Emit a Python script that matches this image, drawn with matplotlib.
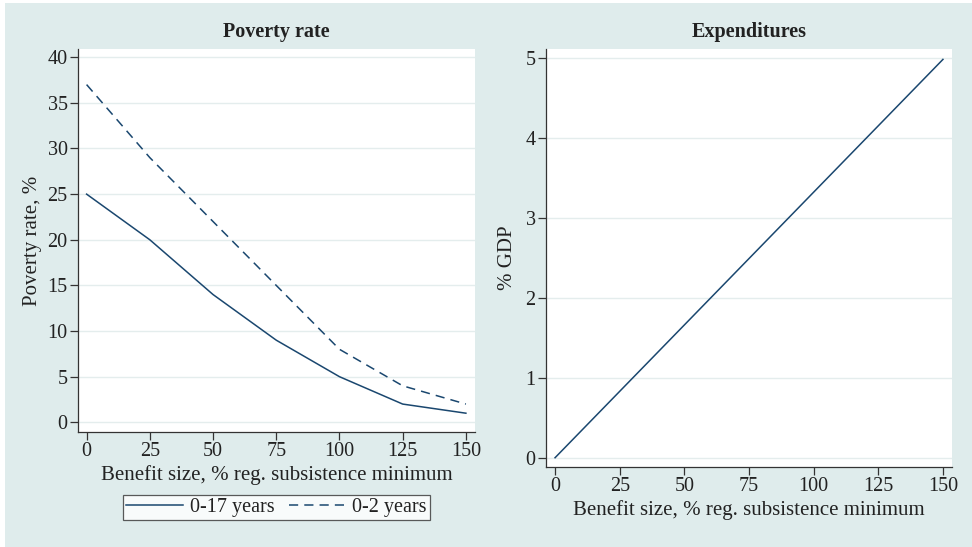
import matplotlib
matplotlib.use("Agg")
import matplotlib.pyplot as plt
from matplotlib.patches import Rectangle

benefit = [0, 25, 50, 75, 100, 125, 150]
pov_0_17 = [25, 20, 14, 9, 5, 2, 1]
pov_0_2 = [37, 29, 22, 15, 8, 4, 2]
exp_gdp = [0, 0.83, 1.66, 2.49, 3.32, 4.15, 4.98]
x_ticks = [0, 25, 50, 75, 100, 125, 150]
pov_ticks = [0, 5, 10, 15, 20, 25, 30, 35, 40]
gdp_ticks = [0, 1, 2, 3, 4, 5]

plt.rcParams['font.family'] = ['Liberation Serif', 'DejaVu Serif']
BG = '#dfecec'
LINE = '#1a476f'
GRID = '#e4eded'
SPINE = '#333333'
TXT = '#222222'

fig = plt.figure(figsize=(9.72, 5.47), dpi=100)
fig.patch.set_facecolor('white')
bg = Rectangle((5/972, 0), 1 - 5/972, 1 - 3/547, transform=fig.transFigure,
               facecolor=BG, edgecolor='none', zorder=-10)
fig.add_artist(bg)

def style(ax):
    ax.set_facecolor('white')
    ax.set_zorder(1)
    for s in ['top', 'right']:
        ax.spines[s].set_visible(False)
    for s in ['left', 'bottom']:
        ax.spines[s].set_color(SPINE)
        ax.spines[s].set_linewidth(0.9)
    ax.tick_params(axis='both', colors=SPINE, labelcolor=TXT, labelsize=14.5,
                   length=5.5, width=0.9, direction='out', pad=2)
    ax.grid(axis='y', color=GRID, linewidth=1.0)
    ax.set_axisbelow(True)

ax1 = fig.add_axes([78/972, 1 - 432/547, 397/972, 383/547])
ax1.plot(benefit, pov_0_17, color=LINE, lw=1.1, label='0-17 years')
ax1.plot(benefit, pov_0_2, color=LINE, lw=1.1, ls=(0, (6, 4)), label='0-2 years')
ax1.set_xlim(-3.4, 153.6)
ax1.set_ylim(-1.06, 40.9)
ax1.set_xticks(x_ticks)
ax1.set_yticks(pov_ticks)
style(ax1)
ax1.set_title('Poverty rate', fontsize=14.5, fontweight='bold', pad=9, color=TXT)
ax1.set_xlabel('Benefit size, % reg. subsistence minimum', fontsize=15, color=TXT, labelpad=3)
ax1.set_ylabel('Poverty rate, %', fontsize=15, color=TXT, labelpad=4)
leg = ax1.legend(loc='upper center', bbox_to_anchor=(0.5, -0.165), ncol=2, frameon=True,
                 fancybox=False, fontsize=14.5, handlelength=2.8, handletextpad=0.35,
                 columnspacing=0.7, borderpad=0.15, labelcolor=TXT, borderaxespad=0)
leg.get_frame().set_edgecolor('#333333')
leg.get_frame().set_linewidth(0.9)

ax2 = fig.add_axes([546/972, 1 - 467/547, 406/972, 418/547])
ax2.plot(benefit, exp_gdp, color=LINE, lw=1.1)
ax2.set_xlim(-3.5, 153.5)
ax2.set_ylim(-0.116, 5.11)
ax2.set_xticks(x_ticks)
ax2.set_yticks(gdp_ticks)
style(ax2)
ax2.set_title('Expenditures', fontsize=14.5, fontweight='bold', pad=9, color=TXT)
ax2.set_xlabel('Benefit size, % reg. subsistence minimum', fontsize=15, color=TXT, labelpad=3)
ax2.set_ylabel('% GDP', fontsize=15, color=TXT, labelpad=6)

fig.savefig('out.png', dpi=100, facecolor=fig.get_facecolor())
